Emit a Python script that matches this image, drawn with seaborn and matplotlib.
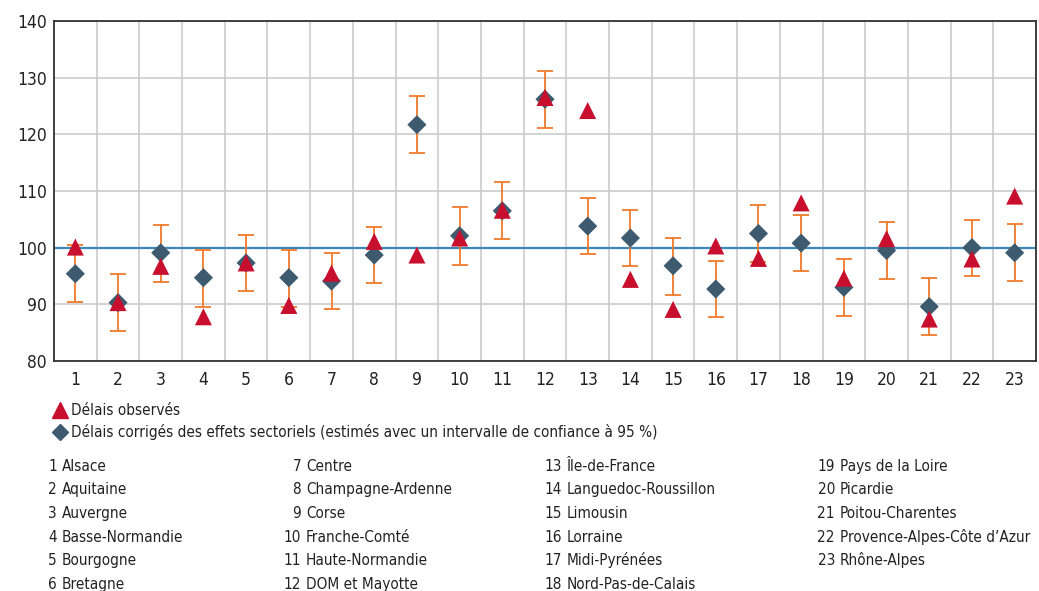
import numpy as np
import pandas as pd
import matplotlib
matplotlib.use("Agg")
import matplotlib.pyplot as plt
from matplotlib import font_manager
from matplotlib.lines import Line2D
import seaborn as sns

# regions numbered 1..23
regions = ["Alsace", "Aquitaine", "Auvergne", "Basse-Normandie", "Bourgogne", "Bretagne",
           "Centre", "Champagne-Ardenne", "Corse", "Franche-Comté", "Haute-Normandie",
           "DOM et Mayotte", "Île-de-France", "Languedoc-Roussillon", "Limousin", "Lorraine",
           "Midi-Pyrénées", "Nord-Pas-de-Calais", "Pays de la Loire", "Picardie",
           "Poitou-Charentes", "Provence-Alpes-Côte d’Azur", "Rhône-Alpes"]
region_num = list(range(1, 24))

observes = [100.1, 90.3, 96.7, 87.8, 97.3, 89.8, 95.5, 101.1, 98.7, 101.7, 106.6, 126.5,
            124.2, 94.4, 89.1, 100.3, 98.1, 107.9, 94.6, 101.6, 87.4, 98.0, 109.1]
corriges = [95.4, 90.3, 99.1, 94.7, 97.3, 94.7, 94.1, 98.7, 121.7, 102.1, 106.5, 126.2,
            103.8, 101.7, 96.8, 92.7, 102.5, 100.8, 93.0, 99.5, 89.6, 100.0, 99.1]
ic_bas = [90.4, 85.3, 94.0, 89.6, 92.3, 89.6, 89.1, 93.7, 116.7, 97.0, 101.5, 121.2,
          98.8, 96.7, 91.7, 87.7, 97.5, 95.8, 88.0, 94.5, 84.6, 95.0, 94.1]
ic_haut = [100.4, 95.4, 104.0, 99.6, 102.3, 99.6, 99.1, 103.7, 126.7, 107.1, 111.5, 131.2,
           108.8, 106.7, 101.7, 97.7, 107.5, 105.8, 98.0, 104.5, 94.6, 104.9, 104.1]

df = pd.DataFrame({"num": region_num, "obs": observes, "corr": corriges,
                   "bas": ic_bas, "haut": ic_haut})

sns.set_style("white")

# a condensed face if the system has one, otherwise Liberation Sans
cond = [f.fname for f in font_manager.fontManager.ttflist
        if ("Condensed" in f.fname or "Narrow" in f.fname)
        and "Bold" not in f.fname and "Oblique" not in f.fname and "Italic" not in f.fname
        and "Sans" in f.fname and "Mono" not in f.fname]
if cond:
    fp = font_manager.FontProperties(fname=sorted(cond)[0])
    tsize = 11
else:
    fp = font_manager.FontProperties(family=["Liberation Sans", "DejaVu Sans"])
    tsize = 10
plt.rcParams["font.family"] = ["Liberation Sans", "DejaVu Sans"]

RED = "#C8102E"
NAVY = "#3D5A6E"
ORANGE = "#F07A2A"
BLUE = "#3B86B8"
TXT = "#222222"

fig = plt.figure(figsize=(10.39, 5.91), dpi=100)
ax = fig.add_axes([54 / 1039, 1 - 361 / 591, (1036 - 54) / 1039, (361 - 21) / 591])

ax.errorbar(df["num"], df["corr"],
            yerr=[df["corr"] - df["bas"], df["haut"] - df["corr"]],
            fmt="none", ecolor=ORANGE, elinewidth=1.3, capsize=6, capthick=1.3, zorder=3)
ax.axhline(100, color=BLUE, lw=1.6, zorder=2)
sns.scatterplot(data=df, x="num", y="corr", marker="D", s=95, color=NAVY,
                edgecolor="none", ax=ax, zorder=4)
sns.scatterplot(data=df, x="num", y="obs", marker="^", s=150, color=RED,
                edgecolor="none", ax=ax, zorder=5)

ax.set_xlim(0.5, 23.5)
ax.set_ylim(80, 140)
ax.set_xticks(region_num)
ax.set_xticks(np.arange(0.5, 24, 1), minor=True)
ax.set_yticks(range(80, 141, 10))
ax.grid(which="minor", axis="x", color="#cccccc", lw=1.2)
ax.grid(which="major", axis="y", color="#cccccc", lw=1.2)
ax.grid(which="major", axis="x", visible=False)
ax.set_axisbelow(True)
ax.tick_params(which="both", length=0, colors=TXT)
ax.tick_params(axis="y", pad=5)
ax.tick_params(axis="x", pad=7)
for lab in ax.get_xticklabels() + ax.get_yticklabels():
    lab.set_fontproperties(fp)
    lab.set_fontsize(tsize + 1.5)
ax.set_xlabel("")
ax.set_ylabel("")
for s in ax.spines.values():
    s.set_color("#333333")
    s.set_linewidth(1.3)

handles = [Line2D([], [], marker="^", color=RED, ls="none", markersize=11),
           Line2D([], [], marker="D", color=NAVY, ls="none", markersize=8)]
labels = ["Délais observés",
          "Délais corrigés des effets sectoriels (estimés avec un intervalle de confiance à 95 %)"]
lp = fp.copy()
lp.set_size(tsize)
leg = fig.legend(handles, labels, loc="upper left", bbox_to_anchor=(43 / 1039, 1 - 397 / 591),
                 frameon=False, prop=lp, handletextpad=0.05, handlelength=1.4,
                 labelspacing=0.4, borderaxespad=0)
for t in leg.get_texts():
    t.set_color(TXT)

num_right = [57, 301, 562, 835]
row_y = [466, 489, 513, 537, 560, 584]
for i, name in enumerate(regions):
    col, row = divmod(i, 6)
    y = 1 - (row_y[row] + 5) / 591
    fig.text(num_right[col] / 1039, y, str(i + 1), ha="right", va="baseline",
             fontproperties=fp, fontsize=tsize, color=TXT)
    fig.text((num_right[col] + 5) / 1039, y, name, ha="left", va="baseline",
             fontproperties=fp, fontsize=tsize, color=TXT)

fig.savefig("out.png", dpi=100)
